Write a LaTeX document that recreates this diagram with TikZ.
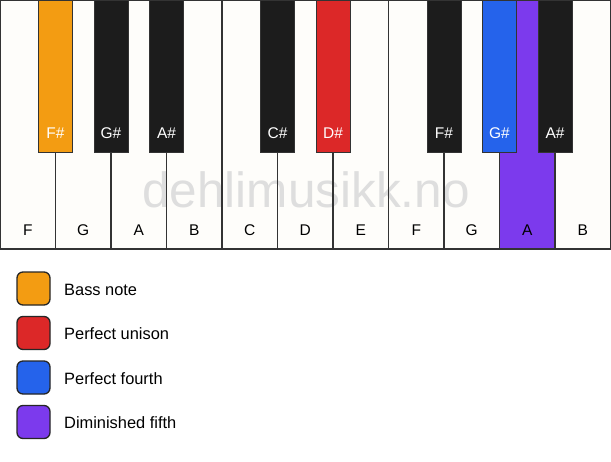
\documentclass[tikz,border=0pt]{standalone}
\usepackage{fontspec}
\setmainfont{Liberation Sans}
\definecolor{wkey}{HTML}{FEFDFA}
\definecolor{bkey}{HTML}{1C1C1C}
\definecolor{edge}{HTML}{333333}
\definecolor{cbass}{HTML}{F39C12}
\definecolor{cunison}{HTML}{DC2828}
\definecolor{cfourth}{HTML}{2563EB}
\definecolor{cdim}{HTML}{7C3AED}
\definecolor{wmark}{HTML}{DEDEDE}
\tikzset{
  whitekey/.style={draw=edge, line width=1.2pt},
  blackkey/.style={draw=edge, line width=1pt},
  wlabel/.style={font=\fontsize{15.5}{15.5}\selectfont, text=black},
  blabel/.style={font=\fontsize{15.5}{15.5}\selectfont, text=white},
  legbox/.style={draw=black!85, line width=1.3pt, rounded corners=6pt, minimum width=33pt, minimum height=33pt, inner sep=0pt},
  legtext/.style={font=\fontsize{16.4}{16.4}\selectfont, anchor=west, inner sep=0pt},
}
\begin{document}
\begin{tikzpicture}[x=1pt,y=-1pt]
\useasboundingbox (0,0) rectangle (611,461);
\fill[white] (0,0) rectangle (611,461);
% white key fills
\foreach \i in {0,...,10} {
  \fill[wkey] ({\i*55.5},0) rectangle ({(\i+1)*55.5},249);
}
\fill[cdim] (499.5,0) rectangle (555,249);
% watermark
\node[font=\fontsize{49.5}{49.5}\selectfont, text=wmark, anchor=base, inner sep=0pt] (wm) at (306,207) {dehlimusikk.no};
% white key outlines
\foreach \i in {0,...,10} {
  \draw[whitekey] ({\i*55.5},0) rectangle ({(\i+1)*55.5},249);
}
% white key labels
\foreach \n [count=\i from 0] in {F,G,A,B,C,D,E,F,G,A,B} {
  \node[wlabel] (w\i) at ({\i*55.5+27.75},230) {\n};
}
% black keys
\foreach \c/\col/\lab [count=\k] in {1/cbass/F\#, 2/bkey/G\#, 3/bkey/A\#, 5/bkey/C\#, 6/cunison/D\#, 8/bkey/F\#, 9/cfourth/G\#, 10/bkey/A\#} {
  \draw[blackkey, fill=\col] ({\c*55.5-17},0) rectangle ({\c*55.5+17},152.5);
  \node[blabel] (b\k) at ({\c*55.5},133) {\lab};
}
% legend
\node[legbox, fill=cbass] (l1) at (33.5,288.5) {};
\node[legbox, fill=cunison] (l2) at (33.5,333) {};
\node[legbox, fill=cfourth] (l3) at (33.5,377.5) {};
\node[legbox, fill=cdim] (l4) at (33.5,422) {};
\node[legtext] (t1) at (64,289.5) {Bass note};
\node[legtext] (t2) at (64,334) {Perfect unison};
\node[legtext] (t3) at (64,378.5) {Perfect fourth};
\node[legtext] (t4) at (64,423) {Diminished fifth};
\end{tikzpicture}
\end{document}
